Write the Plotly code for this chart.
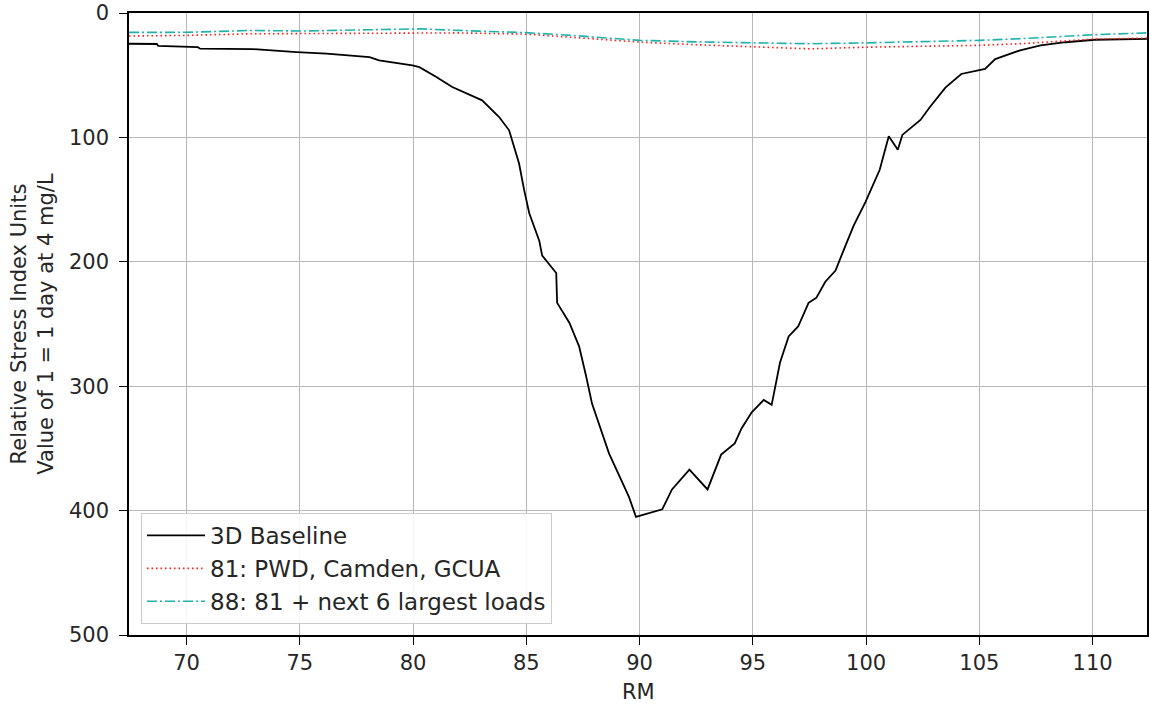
import plotly.graph_objects as go

# ---- data ----
rm_base = [67.46, 68.69, 68.75, 70.5, 70.6, 72.9, 74.86, 76.18, 78.08, 78.5, 79.97, 80.28,
           81.03, 81.73, 83.05, 83.8, 84.24, 84.68, 84.9, 85.13, 85.57, 85.7, 86.32, 86.36,
           86.9, 87.33, 87.64, 87.9, 88.65, 89.53, 89.84, 91.0, 91.43, 92.2, 93.0, 93.6,
           94.2, 94.5, 94.95, 95.48, 95.83, 96.2, 96.58, 97.0, 97.46, 97.8, 98.2, 98.65,
           99.0, 99.45, 99.97, 100.6, 101.0, 101.4, 101.6, 102.4, 102.8, 103.5, 104.2,
           105.25, 105.7, 106.8, 107.7, 108.8, 110.1, 112.4]
si_base = [24.7, 24.9, 26.5, 27.5, 28.7, 29.0, 31.5, 32.7, 35.5, 38.1, 42.1, 43.5,
           51.5, 59.5, 70.2, 83.6, 94.3, 121, 142, 161, 183, 195, 209, 233,
           249, 268, 292, 314, 354, 389, 405, 399, 383, 367, 383, 355,
           346, 334, 321, 311, 315, 281, 260, 252, 233, 229, 216, 207,
           191, 171, 152, 126, 99, 110, 98, 86, 76, 60, 49,
           45, 37, 30, 26, 23.5, 21.5, 20.8]

rm_alt = [67.46, 70, 72.9, 75, 78, 80.3, 82, 85, 87, 90, 92.5, 95, 97.5, 100, 102, 105, 107, 110, 112.4]
si_81 = [18.5, 18.0, 16.7, 16.5, 16.0, 15.6, 16.0, 17.0, 19.5, 23.4, 25.5, 27.4, 28.8, 27.5, 27.0, 26.0, 24.5, 21.0, 20.2]
si_88 = [15.6, 15.5, 14.0, 14.5, 13.5, 12.7, 14.0, 15.8, 18.0, 22.0, 23.2, 24.2, 24.7, 24.0, 23.4, 22.0, 20.5, 17.5, 16.0]

names = ["3D Baseline", "81: PWD, Camden, GCUA", "88: 81 + next 6 largest loads"]
x_ticks = [70, 75, 80, 85, 90, 95, 100, 105, 110]
y_ticks = [0, 100, 200, 300, 400, 500]

FONT = "DejaVu Sans"
fig = go.Figure()
fig.add_trace(go.Scatter(x=rm_base, y=si_base, mode="lines", name=names[0],
                         line=dict(color="black", width=1.8)))
fig.add_trace(go.Scatter(x=rm_alt, y=si_81, mode="lines", name=names[1],
                         line=dict(color="#ff1a1a", width=1.6, dash="1.5px,3px")))
fig.add_trace(go.Scatter(x=rm_alt, y=si_88, mode="lines", name=names[2],
                         line=dict(color="#20b2aa", width=1.6, dash="10px,3px,2px,3px")))

axis_common = dict(showline=True, linecolor="black", linewidth=1.5, mirror=True,
                   ticks="outside", ticklen=8, tickcolor="black", tickwidth=1.3,
                   showgrid=True, gridcolor="#b8b8b8", gridwidth=1.2, zeroline=False,
                   tickfont=dict(family=FONT, size=21, color="#262626"))

fig.update_xaxes(range=[67.46, 112.4], tickvals=x_ticks, **axis_common)
fig.update_yaxes(range=[500, 0], tickvals=y_ticks, ticklabelstandoff=6, **axis_common)

fig.add_annotation(text="Relative Stress Index Units<br>Value of 1 = 1 day at 4 mg/L",
                   xref="paper", yref="paper", x=-0.0956, y=0.5, xanchor="center",
                   yanchor="middle", textangle=-90, showarrow=False,
                   font=dict(family=FONT, size=21, color="#262626"))
fig.add_annotation(text="RM", xref="paper", yref="paper", x=0.5, y=-0.0915,
                   xanchor="center", yanchor="middle", showarrow=False,
                   font=dict(family=FONT, size=21, color="#262626"))

fig.update_layout(
    width=1150, height=706,
    margin=dict(l=129, r=1, t=12, b=71),
    paper_bgcolor="white", plot_bgcolor="white",
    showlegend=True,
    legend=dict(x=0.0118, y=0.0177, xanchor="left", yanchor="bottom",
                itemwidth=58,
                bgcolor="rgba(255,255,255,0.85)", bordercolor="#cccccc", borderwidth=1,
                font=dict(family=FONT, size=23, color="#262626")),
)

fig.write_html("out.html")
